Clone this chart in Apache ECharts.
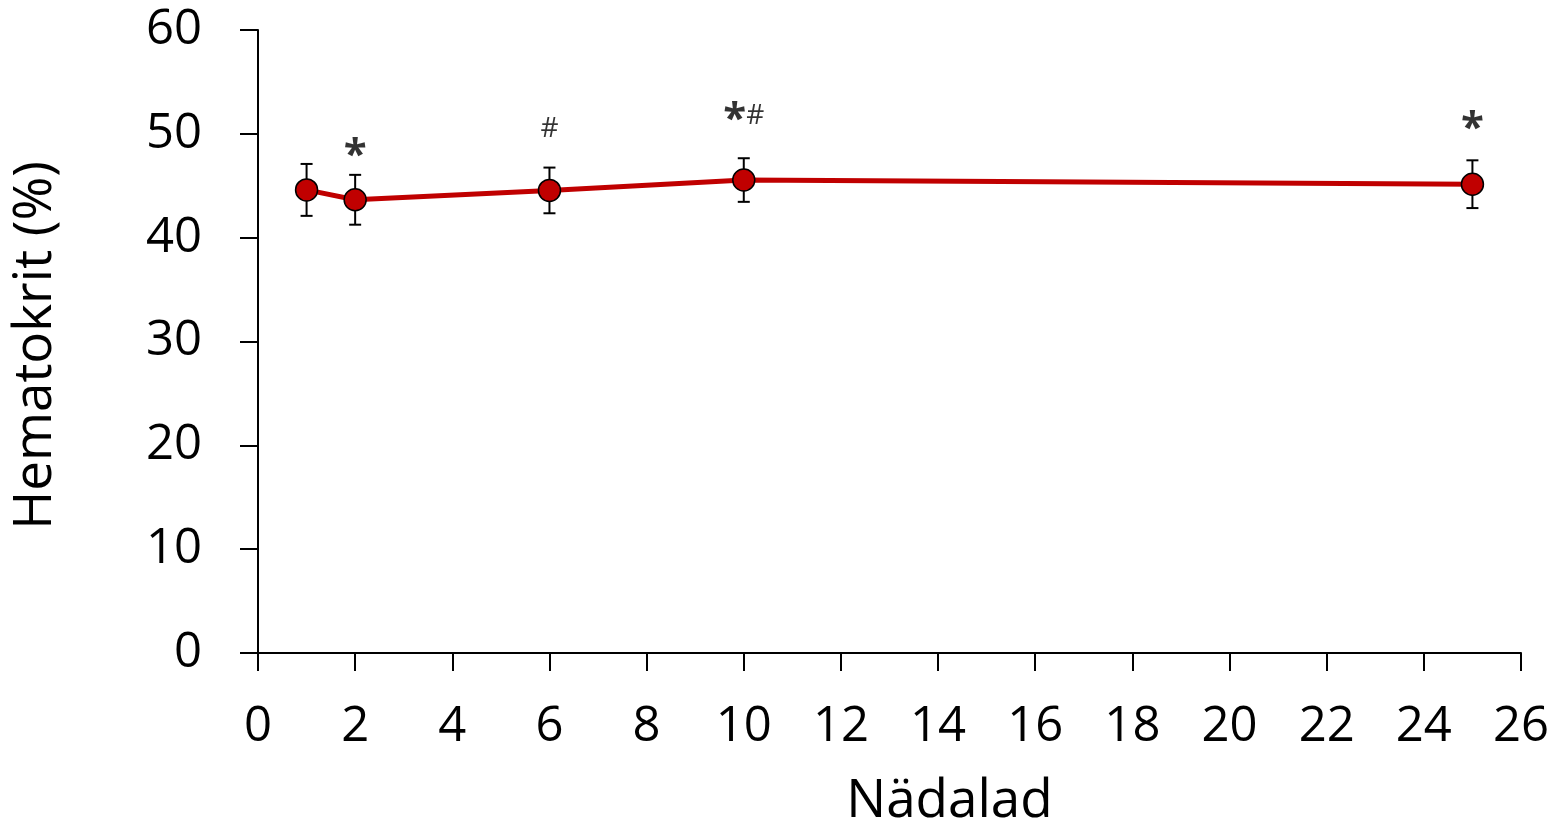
<!DOCTYPE html>
<html>
<head>
<meta charset="utf-8">
<script src="https://cdn.jsdelivr.net/npm/echarts@6/dist/echarts.min.js"></script>
<style>html,body{margin:0;padding:0;background:#fff;overflow:hidden;}#c{width:1565px;height:833px;}</style>
</head>
<body>
<div id="c"></div>
<script>
// Data
const weeks = [1, 2, 6, 10, 25];
const hematocrit = [44.6, 43.65, 44.55, 45.55, 45.15];
const errorSD = [2.5, 2.4, 2.2, 2.1, 2.3];
const annotText = ['', '*', '#', '*#', '*'];
const annotLevel = [null, 48.25, 50.5, 51.7, 50.8];
const xAxisName = 'Nädalad';
const yAxisName = 'Hematokrit (%)';

const FONT = 'Open Sans';
const chart = echarts.init(document.getElementById('c'), null, {renderer: 'canvas'});

const lineData = weeks.map((w, i) => [w, hematocrit[i]]);
const errData = weeks.map((w, i) => [w, hematocrit[i] - errorSD[i], hematocrit[i] + errorSD[i]]);
const annData = weeks.map((w, i) => ({value: [w, annotLevel[i]], txt: annotText[i]})).filter(d => d.txt);

chart.setOption({
  animation: false,
  grid: {left: 258, right: 44, top: 30, bottom: 178},
  xAxis: {
    type: 'value', min: 0, max: 26, interval: 2,
    name: xAxisName, nameLocation: 'middle', nameGap: 122,
    nameTextStyle: {fontFamily: FONT, fontSize: 53, color: '#000', padding: [0, 0, 0, 120]},
    axisLine: {show: true, lineStyle: {color: '#000', width: 2}},
    axisTick: {show: true, inside: false, length: 18, lineStyle: {color: '#000', width: 2}},
    axisLabel: {fontFamily: FONT, fontSize: 49, color: '#000', margin: 50},
    splitLine: {show: false}
  },
  yAxis: {
    type: 'value', min: 0, max: 60, interval: 10,
    name: yAxisName, nameLocation: 'middle', nameGap: 196, nameRotate: 90,
    nameTextStyle: {fontFamily: FONT, fontSize: 53, color: '#000', padding: [0, 8, 0, 0]},
    axisLine: {show: true, lineStyle: {color: '#000', width: 2}},
    axisTick: {show: true, inside: false, length: 18, lineStyle: {color: '#000', width: 2}},
    axisLabel: {fontFamily: FONT, fontSize: 49, color: '#000', margin: 56},
    splitLine: {show: false}
  },
  series: [
    {
      type: 'custom', z: 1,
      data: errData,
      renderItem: function (params, api) {
        const x = api.value(0);
        const lo = api.coord([x, api.value(1)]);
        const hi = api.coord([x, api.value(2)]);
        const cap = 6;
        const st = {stroke: '#000', lineWidth: 2};
        return {type: 'group', children: [
          {type: 'line', shape: {x1: lo[0], y1: lo[1], x2: hi[0], y2: hi[1]}, style: st},
          {type: 'line', shape: {x1: lo[0] - cap, y1: lo[1], x2: lo[0] + cap, y2: lo[1]}, style: st},
          {type: 'line', shape: {x1: hi[0] - cap, y1: hi[1], x2: hi[0] + cap, y2: hi[1]}, style: st}
        ]};
      }
    },
    {
      type: 'line', z: 3,
      data: lineData,
      symbol: 'circle', symbolSize: 22,
      lineStyle: {color: '#C00000', width: 5},
      itemStyle: {color: '#C00000', borderColor: '#000', borderWidth: 1.5}
    },
    {
      type: 'scatter', z: 4,
      data: annData,
      symbolSize: 0,
      label: {
        show: true, position: 'inside', color: '#000',
        formatter: function (p) {
          return p.data.txt.split('').map(c => c === '*' ? '{a|*}' : '{b|#}').join('');
        },
        rich: {
          a: {fontFamily: FONT, fontSize: 42, fontWeight: 'bold', color: '#000', padding: [8, 0, 0, 0]},
          b: {fontFamily: FONT, fontSize: 28, color: '#000'}
        }
      }
    }
  ]
});
</script>
</body>
</html>
